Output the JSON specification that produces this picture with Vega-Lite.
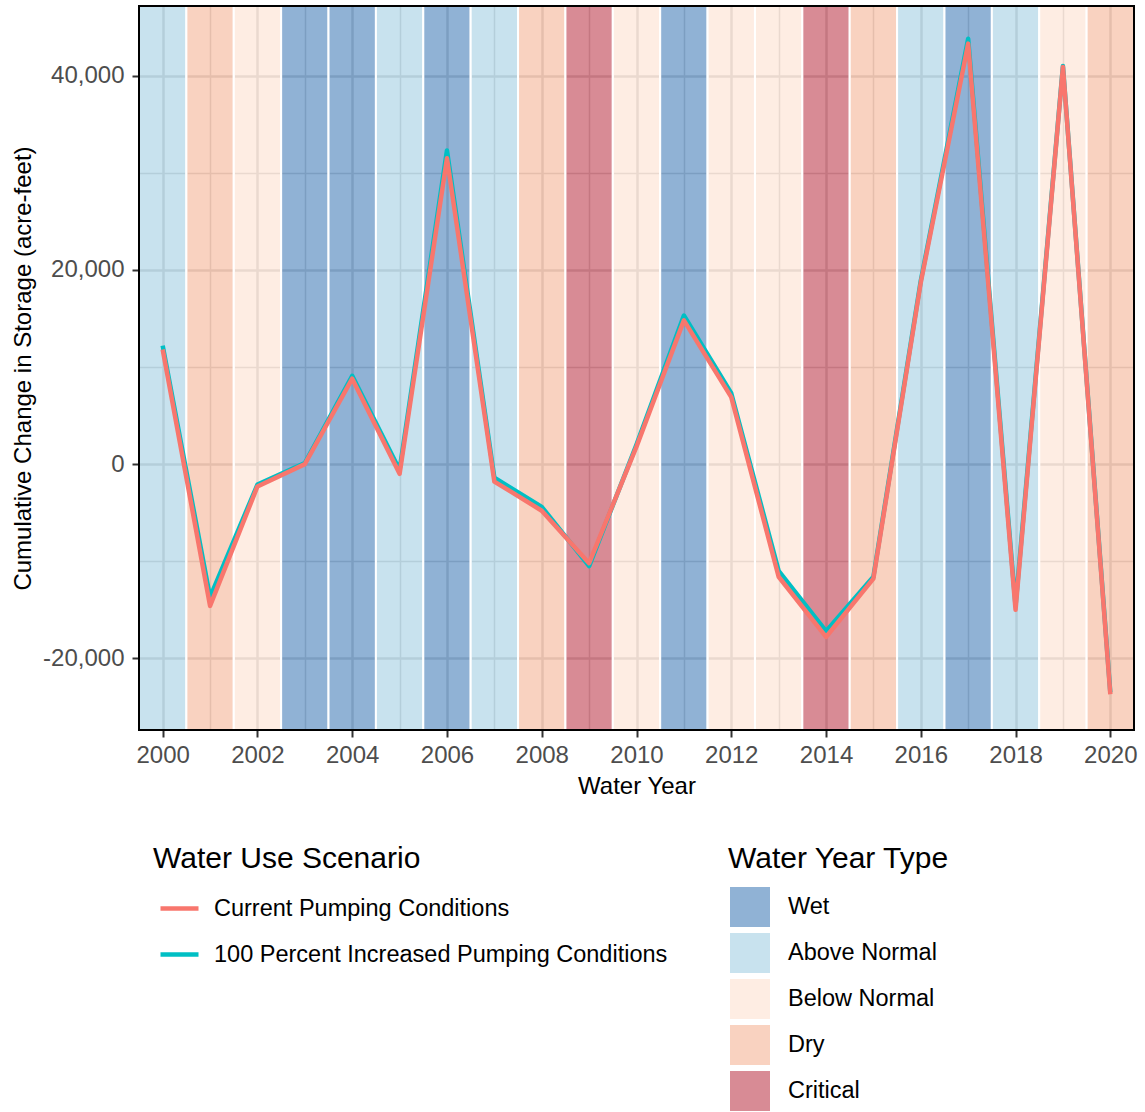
{
  "$schema": "https://vega.github.io/schema/vega-lite/v6.json",
  "autosize": "none",
  "width": 995,
  "height": 724,
  "padding": {"left": 139, "top": 6, "right": 11, "bottom": 382},
  "background": "white",
  "datasets": {
    "yeartypes": [
      {"year": 2000, "type": "Above Normal"},
      {"year": 2001, "type": "Dry"},
      {"year": 2002, "type": "Below Normal"},
      {"year": 2003, "type": "Wet"},
      {"year": 2004, "type": "Wet"},
      {"year": 2005, "type": "Above Normal"},
      {"year": 2006, "type": "Wet"},
      {"year": 2007, "type": "Above Normal"},
      {"year": 2008, "type": "Dry"},
      {"year": 2009, "type": "Critical"},
      {"year": 2010, "type": "Below Normal"},
      {"year": 2011, "type": "Wet"},
      {"year": 2012, "type": "Below Normal"},
      {"year": 2013, "type": "Below Normal"},
      {"year": 2014, "type": "Critical"},
      {"year": 2015, "type": "Dry"},
      {"year": 2016, "type": "Above Normal"},
      {"year": 2017, "type": "Wet"},
      {"year": 2018, "type": "Above Normal"},
      {"year": 2019, "type": "Below Normal"},
      {"year": 2020, "type": "Dry"}
    ],
    "storage": [
      {"year": 2000, "scenario": "100 Percent Increased Pumping Conditions", "change": 12200},
      {"year": 2001, "scenario": "100 Percent Increased Pumping Conditions", "change": -13700},
      {"year": 2002, "scenario": "100 Percent Increased Pumping Conditions", "change": -2100},
      {"year": 2003, "scenario": "100 Percent Increased Pumping Conditions", "change": 100},
      {"year": 2004, "scenario": "100 Percent Increased Pumping Conditions", "change": 9100},
      {"year": 2005, "scenario": "100 Percent Increased Pumping Conditions", "change": -600},
      {"year": 2006, "scenario": "100 Percent Increased Pumping Conditions", "change": 32300},
      {"year": 2007, "scenario": "100 Percent Increased Pumping Conditions", "change": -1400},
      {"year": 2008, "scenario": "100 Percent Increased Pumping Conditions", "change": -4400},
      {"year": 2009, "scenario": "100 Percent Increased Pumping Conditions", "change": -10500},
      {"year": 2010, "scenario": "100 Percent Increased Pumping Conditions", "change": 2000},
      {"year": 2011, "scenario": "100 Percent Increased Pumping Conditions", "change": 15300},
      {"year": 2012, "scenario": "100 Percent Increased Pumping Conditions", "change": 7300},
      {"year": 2013, "scenario": "100 Percent Increased Pumping Conditions", "change": -11000},
      {"year": 2014, "scenario": "100 Percent Increased Pumping Conditions", "change": -17200},
      {"year": 2015, "scenario": "100 Percent Increased Pumping Conditions", "change": -11600},
      {"year": 2016, "scenario": "100 Percent Increased Pumping Conditions", "change": 18900},
      {"year": 2017, "scenario": "100 Percent Increased Pumping Conditions", "change": 43800},
      {"year": 2018, "scenario": "100 Percent Increased Pumping Conditions", "change": -14600},
      {"year": 2019, "scenario": "100 Percent Increased Pumping Conditions", "change": 41000},
      {"year": 2020, "scenario": "100 Percent Increased Pumping Conditions", "change": -23500},
      {"year": 2000, "scenario": "Current Pumping Conditions", "change": 11800},
      {"year": 2001, "scenario": "Current Pumping Conditions", "change": -14600},
      {"year": 2002, "scenario": "Current Pumping Conditions", "change": -2300},
      {"year": 2003, "scenario": "Current Pumping Conditions", "change": 0},
      {"year": 2004, "scenario": "Current Pumping Conditions", "change": 8800},
      {"year": 2005, "scenario": "Current Pumping Conditions", "change": -1000},
      {"year": 2006, "scenario": "Current Pumping Conditions", "change": 31500},
      {"year": 2007, "scenario": "Current Pumping Conditions", "change": -1800},
      {"year": 2008, "scenario": "Current Pumping Conditions", "change": -4800},
      {"year": 2009, "scenario": "Current Pumping Conditions", "change": -10200},
      {"year": 2010, "scenario": "Current Pumping Conditions", "change": 1800},
      {"year": 2011, "scenario": "Current Pumping Conditions", "change": 14800},
      {"year": 2012, "scenario": "Current Pumping Conditions", "change": 6900},
      {"year": 2013, "scenario": "Current Pumping Conditions", "change": -11600},
      {"year": 2014, "scenario": "Current Pumping Conditions", "change": -17800},
      {"year": 2015, "scenario": "Current Pumping Conditions", "change": -11800},
      {"year": 2016, "scenario": "Current Pumping Conditions", "change": 18700},
      {"year": 2017, "scenario": "Current Pumping Conditions", "change": 43300},
      {"year": 2018, "scenario": "Current Pumping Conditions", "change": -15000},
      {"year": 2019, "scenario": "Current Pumping Conditions", "change": 40900},
      {"year": 2020, "scenario": "Current Pumping Conditions", "change": -23700}
    ]
  },
  "layer": [
    {
      "data": {"name": "yeartypes"},
      "transform": [
        {"calculate": "datum.year - 0.5", "as": "start"},
        {"calculate": "datum.year + 0.5", "as": "end"}
      ],
      "mark": {"type": "rect", "fillOpacity": 0.5, "stroke": "white", "strokeWidth": 2, "strokeOpacity": 1},
      "encoding": {
        "x": {
          "field": "start",
          "type": "quantitative",
          "title": "Water Year",
          "scale": {"domain": [1999.5, 2020.5], "nice": false, "zero": false},
          "axis": {
            "values": [2000, 2001, 2002, 2003, 2004, 2005, 2006, 2007, 2008, 2009, 2010, 2011, 2012, 2013, 2014, 2015, 2016, 2017, 2018, 2019, 2020],
            "format": "d",
            "labelExpr": "datum.value % 2 === 0 ? datum.label : ''",
            "domain": false,
            "grid": true,
            "gridColor": "#d6d6d6",
            "gridWidth": {"condition": {"test": "datum.value % 2 === 0", "value": 2.5}, "value": 1.5},
            "tickOpacity": {"condition": {"test": "datum.value % 2 !== 0", "value": 0}, "value": 1},
            "tickColor": "#333333",
            "tickWidth": 2,
            "tickSize": 7,
            "labelColor": "#4d4d4d",
            "labelFontSize": 24,
            "labelPadding": 6,
            "labelFlush": false,
            "labelOverlap": false,
            "titleFontSize": 24,
            "titleFontWeight": "normal",
            "titleColor": "#000000",
            "titlePadding": 7
          }
        },
        "x2": {"field": "end"},
        "fill": {
          "field": "type",
          "type": "nominal",
          "title": "Water Year Type",
          "scale": {
            "domain": ["Wet", "Above Normal", "Below Normal", "Dry", "Critical"],
            "range": ["#2166ac", "#92c5de", "#fddbc7", "#f4a582", "#b2182b"]
          },
          "legend": {
            "orient": "none",
            "legendX": 589,
            "legendY": 838,
            "direction": "vertical",
            "symbolType": "square",
            "symbolSize": 1600,
            "symbolOpacity": 0.5,
            "symbolFillOpacity": 1,
            "symbolStrokeWidth": 0,
            "symbolOffset": 2,
            "labelOffset": 18,
            "rowPadding": 6,
            "titlePadding": 13
          }
        }
      }
    },
    {
      "data": {"name": "storage"},
      "mark": {"type": "line", "strokeWidth": 4.5, "strokeJoin": "round", "strokeCap": "butt"},
      "encoding": {
        "x": {"field": "year", "type": "quantitative", "title": "Water Year"},
        "y": {
          "field": "change",
          "type": "quantitative",
          "title": "Cumulative Change in Storage (acre-feet)",
          "scale": {"domain": [-27380, 47175], "nice": false, "zero": false},
          "axis": {
            "values": [-20000, -10000, 0, 10000, 20000, 30000, 40000],
            "labelExpr": "datum.value % 20000 === 0 ? (datum.value < 0 ? '-' : '') + format(abs(datum.value), ',') : ''",
            "domain": false,
            "grid": true,
            "gridColor": "#d6d6d6",
            "gridWidth": {"condition": {"test": "datum.value % 20000 === 0", "value": 2.5}, "value": 1.5},
            "tickOpacity": {"condition": {"test": "datum.value % 20000 !== 0", "value": 0}, "value": 1},
            "tickColor": "#333333",
            "tickWidth": 2,
            "tickSize": 7,
            "labelColor": "#4d4d4d",
            "labelFontSize": 24,
            "labelPadding": 8,
            "labelFlush": false,
            "labelOverlap": false,
            "titleFontSize": 24,
            "titleFontWeight": "normal",
            "titleColor": "#000000",
            "titlePadding": 7
          }
        },
        "stroke": {
          "field": "scenario",
          "type": "nominal",
          "title": "Water Use Scenario",
          "scale": {
            "domain": ["Current Pumping Conditions", "100 Percent Increased Pumping Conditions"],
            "range": ["#F8766D", "#00BFC4"]
          },
          "legend": {
            "orient": "none",
            "legendX": 14,
            "legendY": 838,
            "direction": "vertical",
            "symbolType": "stroke",
            "symbolSize": 1444,
            "symbolStrokeWidth": 4.5,
            "symbolOffset": 5,
            "labelOffset": 13,
            "rowPadding": 13,
            "titlePadding": 13
          }
        }
      }
    }
  ],
  "config": {
    "font": "Liberation Sans",
    "view": {"stroke": "#000000", "strokeWidth": 2},
    "style": {"cell": {"strokeForeground": true}},
    "legend": {
      "titleFontSize": 30,
      "titleFontWeight": "normal",
      "titleColor": "#000000",
      "titleLimit": 0,
      "labelFontSize": 23.5,
      "labelColor": "#000000",
      "labelLimit": 0,
      "padding": 0
    }
  }
}
